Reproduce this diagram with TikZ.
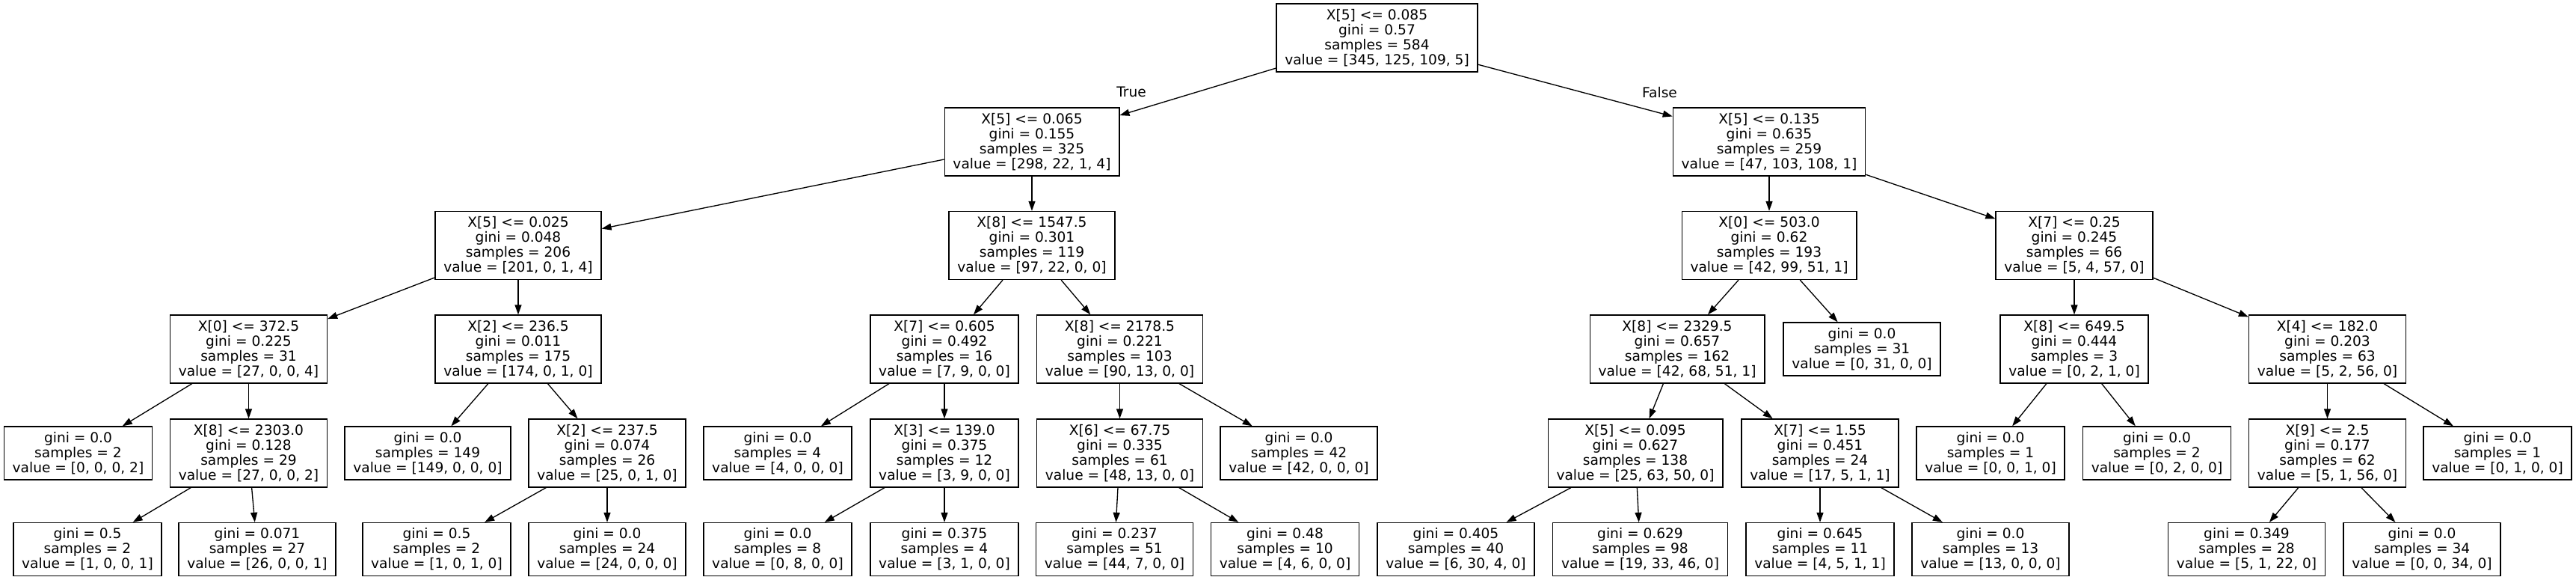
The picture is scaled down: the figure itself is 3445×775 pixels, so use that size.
\documentclass[tikz,border=0pt]{standalone}
\usepackage{fontspec}
\setmainfont{DejaVu Sans}
\usepackage{tikz}
\usepackage{xcolor}
\usetikzlibrary{arrows.meta}
\tikzset{
>={Triangle[length=13pt,width=9pt]},
  treefont/.style={font=\fontsize{18.6}{20}\selectfont},
}

\begin{document}
\begin{tikzpicture}[x=1pt, y=-1pt]
    \tikzset{
        splitnode/.style={rectangle, draw=black, fill=white, line width=1.33pt, treefont, align=center, inner xsep=11.3pt, inner ysep=0pt, minimum height=91pt},
        leafnode/.style={splitnode, minimum height=71pt},
        myarrow/.style={draw, line width=1.33pt, ->},
        edgelabel/.style={treefont, inner sep=0pt},
    }
    \useasboundingbox (0,0) rectangle (3445,775);

    % level 0 and 1
    \node[splitnode] (node0) at (1841.5,50.5) {X[5] <= 0.085\\gini = 0.57\\samples = 584\\value = [345, 125, 109, 5]};
    \node[splitnode] (node1) at (1380,189.5) {X[5] <= 0.065\\gini = 0.155\\samples = 325\\value = [298, 22, 1, 4]};
    \node[splitnode] (node24) at (2366,189.5) {X[5] <= 0.135\\gini = 0.635\\samples = 259\\value = [47, 103, 108, 1]};

    % level 2
    \node[splitnode] (node2) at (693,328) {X[5] <= 0.025\\gini = 0.048\\samples = 206\\value = [201, 0, 1, 4]};
    \node[splitnode] (node13) at (1380,328) {X[8] <= 1547.5\\gini = 0.301\\samples = 119\\value = [97, 22, 0, 0]};
    \node[splitnode] (node25) at (2366,328) {X[0] <= 503.0\\gini = 0.62\\samples = 193\\value = [42, 99, 51, 1]};
    \node[splitnode] (node34) at (2774,328) {X[7] <= 0.25\\gini = 0.245\\samples = 66\\value = [5, 4, 57, 0]};

    % level 3
    \node[splitnode] (node3) at (332.5,466.5) {X[0] <= 372.5\\gini = 0.225\\samples = 31\\value = [27, 0, 0, 4]};
    \node[splitnode] (node8) at (693,466.5) {X[2] <= 236.5\\gini = 0.011\\samples = 175\\value = [174, 0, 1, 0]};
    \node[splitnode] (node14) at (1263,466.5) {X[7] <= 0.605\\gini = 0.492\\samples = 16\\value = [7, 9, 0, 0]};
    \node[splitnode] (node19) at (1497.5,466.5) {X[8] <= 2178.5\\gini = 0.221\\samples = 103\\value = [90, 13, 0, 0]};
    \node[splitnode] (node26) at (2243,466.5) {X[8] <= 2329.5\\gini = 0.657\\samples = 162\\value = [42, 68, 51, 1]};
    \node[leafnode] (node33) at (2490,466.5) {gini = 0.0\\samples = 31\\value = [0, 31, 0, 0]};
    \node[splitnode] (node35) at (2774,466.5) {X[8] <= 649.5\\gini = 0.444\\samples = 3\\value = [0, 2, 1, 0]};
    \node[splitnode] (node38) at (3112.5,466.5) {X[4] <= 182.0\\gini = 0.203\\samples = 63\\value = [5, 2, 56, 0]};

    % level 4
    \node[leafnode] (node4) at (104.5,605.5) {gini = 0.0\\samples = 2\\value = [0, 0, 0, 2]};
    \node[splitnode] (node5) at (332.5,605.5) {X[8] <= 2303.0\\gini = 0.128\\samples = 29\\value = [27, 0, 0, 2]};
    \node[leafnode] (node9) at (572,605.5) {gini = 0.0\\samples = 149\\value = [149, 0, 0, 0]};
    \node[splitnode] (node10) at (812,605.5) {X[2] <= 237.5\\gini = 0.074\\samples = 26\\value = [25, 0, 1, 0]};
    \node[leafnode] (node15) at (1040,605.5) {gini = 0.0\\samples = 4\\value = [4, 0, 0, 0]};
    \node[splitnode] (node16) at (1263,605.5) {X[3] <= 139.0\\gini = 0.375\\samples = 12\\value = [3, 9, 0, 0]};
    \node[splitnode] (node20) at (1497.5,605.5) {X[6] <= 67.75\\gini = 0.335\\samples = 61\\value = [48, 13, 0, 0]};
    \node[leafnode] (node23) at (1737,605.5) {gini = 0.0\\samples = 42\\value = [42, 0, 0, 0]};
    \node[splitnode] (node27) at (2187,605.5) {X[5] <= 0.095\\gini = 0.627\\samples = 138\\value = [25, 63, 50, 0]};
    \node[splitnode] (node30) at (2434,605.5) {X[7] <= 1.55\\gini = 0.451\\samples = 24\\value = [17, 5, 1, 1]};
    \node[leafnode] (node36) at (2662,605.5) {gini = 0.0\\samples = 1\\value = [0, 0, 1, 0]};
    \node[leafnode] (node37) at (2884.5,605.5) {gini = 0.0\\samples = 2\\value = [0, 2, 0, 0]};
    \node[splitnode] (node39) at (3112.5,605.5) {X[9] <= 2.5\\gini = 0.177\\samples = 62\\value = [5, 1, 56, 0]};
    \node[leafnode] (node42) at (3340,605.5) {gini = 0.0\\samples = 1\\value = [0, 1, 0, 0]};

    % level 5
    \node[leafnode] (node6) at (117,734) {gini = 0.5\\samples = 2\\value = [1, 0, 0, 1]};
    \node[leafnode] (node7) at (344,734) {gini = 0.071\\samples = 27\\value = [26, 0, 0, 1]};
    \node[leafnode] (node11) at (584,734) {gini = 0.5\\samples = 2\\value = [1, 0, 1, 0]};
    \node[leafnode] (node12) at (812,734) {gini = 0.0\\samples = 24\\value = [24, 0, 0, 0]};
    \node[leafnode] (node17) at (1040,734) {gini = 0.0\\samples = 8\\value = [0, 8, 0, 0]};
    \node[leafnode] (node18) at (1263,734) {gini = 0.375\\samples = 4\\value = [3, 1, 0, 0]};
    \node[leafnode] (node21) at (1490.5,734) {gini = 0.237\\samples = 51\\value = [44, 7, 0, 0]};
    \node[leafnode] (node22) at (1718.5,734) {gini = 0.48\\samples = 10\\value = [4, 6, 0, 0]};
    \node[leafnode] (node28) at (1947,734) {gini = 0.405\\samples = 40\\value = [6, 30, 4, 0]};
    \node[leafnode] (node29) at (2193.5,734) {gini = 0.629\\samples = 98\\value = [19, 33, 46, 0]};
    \node[leafnode] (node31) at (2434,734) {gini = 0.645\\samples = 11\\value = [4, 5, 1, 1]};
    \node[leafnode] (node32) at (2662,734) {gini = 0.0\\samples = 13\\value = [13, 0, 0, 0]};
    \node[leafnode] (node40) at (3004.5,734) {gini = 0.349\\samples = 28\\value = [5, 1, 22, 0]};
    \node[leafnode] (node41) at (3239,734) {gini = 0.0\\samples = 34\\value = [0, 0, 34, 0]};

    % edge labels
    \node[edgelabel] (lblTrue) at (1513,123) {True};
    \node[edgelabel] (lblFalse) at (2219.5,124) {False};

    % edges
    \draw[myarrow] (node0) -- (node1);
    \draw[myarrow] (node0) -- (node24);
    \draw[myarrow] (node1) -- (node2);
    \draw[myarrow] (node1) -- (node13);
    \draw[myarrow] (node2) -- (node3);
    \draw[myarrow] (node2) -- (node8);
    \draw[myarrow] (node3) -- (node4);
    \draw[myarrow] (node3) -- (node5);
    \draw[myarrow] (node5) -- (node6);
    \draw[myarrow] (node5) -- (node7);
    \draw[myarrow] (node8) -- (node9);
    \draw[myarrow] (node8) -- (node10);
    \draw[myarrow] (node10) -- (node11);
    \draw[myarrow] (node10) -- (node12);
    \draw[myarrow] (node13) -- (node14);
    \draw[myarrow] (node13) -- (node19);
    \draw[myarrow] (node14) -- (node15);
    \draw[myarrow] (node14) -- (node16);
    \draw[myarrow] (node16) -- (node17);
    \draw[myarrow] (node16) -- (node18);
    \draw[myarrow] (node19) -- (node20);
    \draw[myarrow] (node19) -- (node23);
    \draw[myarrow] (node20) -- (node21);
    \draw[myarrow] (node20) -- (node22);
    \draw[myarrow] (node24) -- (node25);
    \draw[myarrow] (node24) -- (node34);
    \draw[myarrow] (node25) -- (node26);
    \draw[myarrow] (node25) -- (node33);
    \draw[myarrow] (node26) -- (node27);
    \draw[myarrow] (node26) -- (node30);
    \draw[myarrow] (node27) -- (node28);
    \draw[myarrow] (node27) -- (node29);
    \draw[myarrow] (node30) -- (node31);
    \draw[myarrow] (node30) -- (node32);
    \draw[myarrow] (node34) -- (node35);
    \draw[myarrow] (node34) -- (node38);
    \draw[myarrow] (node35) -- (node36);
    \draw[myarrow] (node35) -- (node37);
    \draw[myarrow] (node38) -- (node39);
    \draw[myarrow] (node38) -- (node42);
    \draw[myarrow] (node39) -- (node40);
    \draw[myarrow] (node39) -- (node41);

\end{tikzpicture}
\end{document}
